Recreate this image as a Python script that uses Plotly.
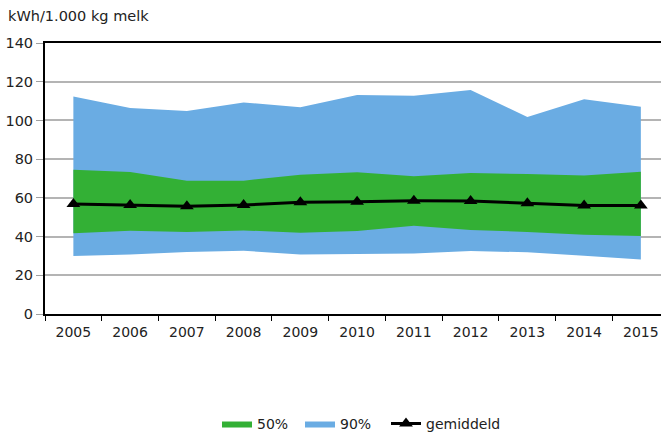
import plotly.graph_objects as go

years = ["2005", "2006", "2007", "2008", "2009", "2010", "2011", "2012", "2013", "2014", "2015"]
p5 = [30.0, 30.7, 32.0, 32.7, 30.7, 31.0, 31.3, 32.5, 31.9, 30.1, 28.2]
p25 = [41.7, 43.0, 42.4, 43.2, 42.0, 42.9, 45.6, 43.4, 42.4, 41.0, 40.3]
p75 = [74.5, 73.3, 68.9, 68.9, 72.0, 73.2, 71.1, 72.8, 72.3, 71.6, 73.5]
p95 = [112.3, 106.4, 104.9, 109.3, 106.8, 113.1, 112.8, 115.7, 101.8, 111.0, 107.1]
mean = [56.8, 56.3, 55.6, 56.3, 57.7, 58.0, 58.5, 58.4, 57.2, 56.0, 56.0]

GREEN = "#33B035"
BLUE = "#6AACE3"
FONT = "DejaVu Sans"

fig = go.Figure()
fig.add_trace(go.Scatter(x=years, y=p5, mode="lines", line=dict(width=0, color=BLUE),
                         showlegend=False, hoverinfo="skip"))
fig.add_trace(go.Scatter(x=years, y=p95, mode="lines", fill="tonexty", fillcolor=BLUE,
                         line=dict(width=0, color=BLUE), name="90%", legend="legend2"))
fig.add_trace(go.Scatter(x=years, y=p25, mode="lines", line=dict(width=0, color=GREEN),
                         showlegend=False, hoverinfo="skip"))
fig.add_trace(go.Scatter(x=years, y=p75, mode="lines", fill="tonexty", fillcolor=GREEN,
                         line=dict(width=0, color=GREEN), name="50%", legend="legend"))
fig.add_trace(go.Scatter(x=years, y=mean, mode="lines+markers", name="gemiddeld",
                         line=dict(color="black", width=3),
                         marker=dict(symbol="triangle-up", size=12, color="black"),
                         legend="legend3"))


def leg(px_left):
    return dict(orientation="h", x=px_left / 661, xanchor="left", xref="container",
                y=0.021, yanchor="middle", yref="container",
                font=dict(size=14), itemwidth=30, bgcolor="rgba(0,0,0,0)")


fig.update_layout(
    width=661, height=433,
    margin=dict(l=45, r=0, t=43, b=119, autoexpand=False),
    paper_bgcolor="white", plot_bgcolor="white",
    font=dict(family=FONT, size=14, color="#222222"),
    showlegend=True,
    legend=leg(217),
    legend2=leg(300),
    legend3=leg(386),
    annotations=[dict(text="kWh/1.000 kg melk", xref="paper", yref="paper",
                      x=-0.063, y=1.062, xanchor="left", yanchor="bottom",
                      showarrow=False, font=dict(size=14.5, family=FONT))],
)
fig.update_xaxes(
    type="category", range=[-0.5, 10.355], automargin=False,
    showline=True, linecolor="black", linewidth=2, mirror=True,
    ticks="outside", tickson="boundaries", ticklen=5, tickcolor="black",
    ticklabelstandoff=4,
    showgrid=False, tickfont=dict(size=14),
)
fig.update_yaxes(
    range=[0, 140], dtick=20, automargin=False,
    showline=True, linecolor="black", linewidth=2,
    ticks="outside", ticklen=7, tickcolor="#a0a0a0",
    showgrid=True, gridcolor="#b4b4b4", gridwidth=1.5,
    zeroline=False, tickfont=dict(size=14.5),
)

fig.write_html("out.html", config={"displayModeBar": False},
               post_script="document.body.style.margin='0px';document.body.style.overflow='hidden';")
